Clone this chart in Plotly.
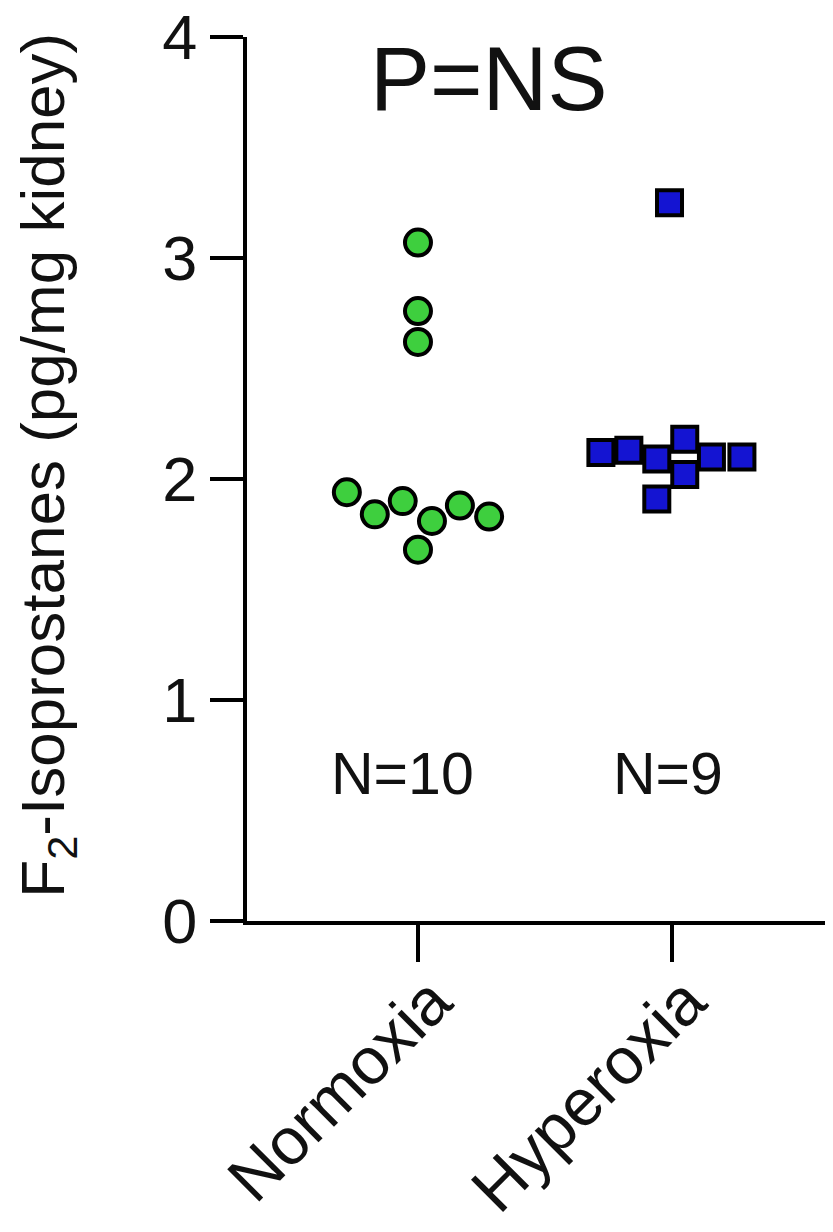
import plotly.graph_objects as go

categories = ["Normoxia", "Hyperoxia"]
normoxia_vals = [3.07, 2.76, 2.62, 1.94, 1.84, 1.90, 1.81, 1.88, 1.83, 1.68]
normoxia_jitter = [0.0, 0.0, 0.0, -0.28, -0.17, -0.06, 0.055, 0.165, 0.28, 0.0]
hyperoxia_vals = [3.25, 2.12, 2.13, 2.09, 2.18, 2.02, 2.10, 2.10, 1.91]
hyperoxia_jitter = [-0.01, -0.28, -0.17, -0.06, 0.05, 0.05, 0.155, 0.275, -0.06]
y_ticks = [0, 1, 2, 3, 4]
n_labels = ["N=10", "N=9"]
p_label = "P=NS"

FONT = "Liberation Sans, Arial, Helvetica, sans-serif"
TXT = "#111111"

fig = go.Figure()
fig.add_trace(go.Scatter(
    x=[0 + j for j in normoxia_jitter], y=normoxia_vals, mode="markers",
    marker=dict(symbol="circle", size=26, color="#3ecf3e",
                line=dict(color="black", width=4)),
    showlegend=False))
fig.add_trace(go.Scatter(
    x=[1 + j for j in hyperoxia_jitter], y=hyperoxia_vals, mode="markers",
    marker=dict(symbol="square", size=25, color="#1414d2",
                line=dict(color="black", width=4)),
    showlegend=False))

fig.update_layout(
    width=833, height=1232,
    margin=dict(l=239, r=0, t=29, b=319),
    plot_bgcolor="white", paper_bgcolor="white",
    font=dict(family=FONT, color=TXT),
    xaxis=dict(
        range=[-0.673, 1.665], tickmode="array", tickvals=[0, 1],
        ticktext=categories, tickangle=-45, tickfont=dict(size=66),
        showline=True, linecolor="black", linewidth=4,
        ticks="outside", ticklen=37, tickwidth=4, tickcolor="black",
        ticklabelstandoff=-26, ticklabelshift=14, ticklabeloverflow="allow",
        showgrid=False, zeroline=False, automargin=False),
    yaxis=dict(
        range=[0, 4], tickmode="array", tickvals=y_ticks,
        tickfont=dict(size=63), ticklabeloverflow="allow",
        showline=True, linecolor="black", linewidth=4,
        ticks="outside", ticklen=33, tickwidth=4, tickcolor="black",
        showgrid=False, zeroline=False, automargin=False),
)

fig.add_annotation(text=p_label, x=0.28, y=3.81, xref="x", yref="y",
                   showarrow=False, font=dict(size=90, family=FONT, color=TXT))
for i, lab in enumerate(n_labels):
    fig.add_annotation(text=lab, x=[-0.06, 0.985][i], y=0.665, xref="x", yref="y",
                       showarrow=False, font=dict(size=59, family=FONT, color=TXT))
fig.add_annotation(text="F<sub>2</sub>-Isoprostanes (pg/mg kidney)",
                   x=-0.337, y=0.516, xref="paper", yref="paper",
                   textangle=-90, showarrow=False, xanchor="center", yanchor="middle",
                   font=dict(size=62, family=FONT, color=TXT))

fig.write_html("out.html")
